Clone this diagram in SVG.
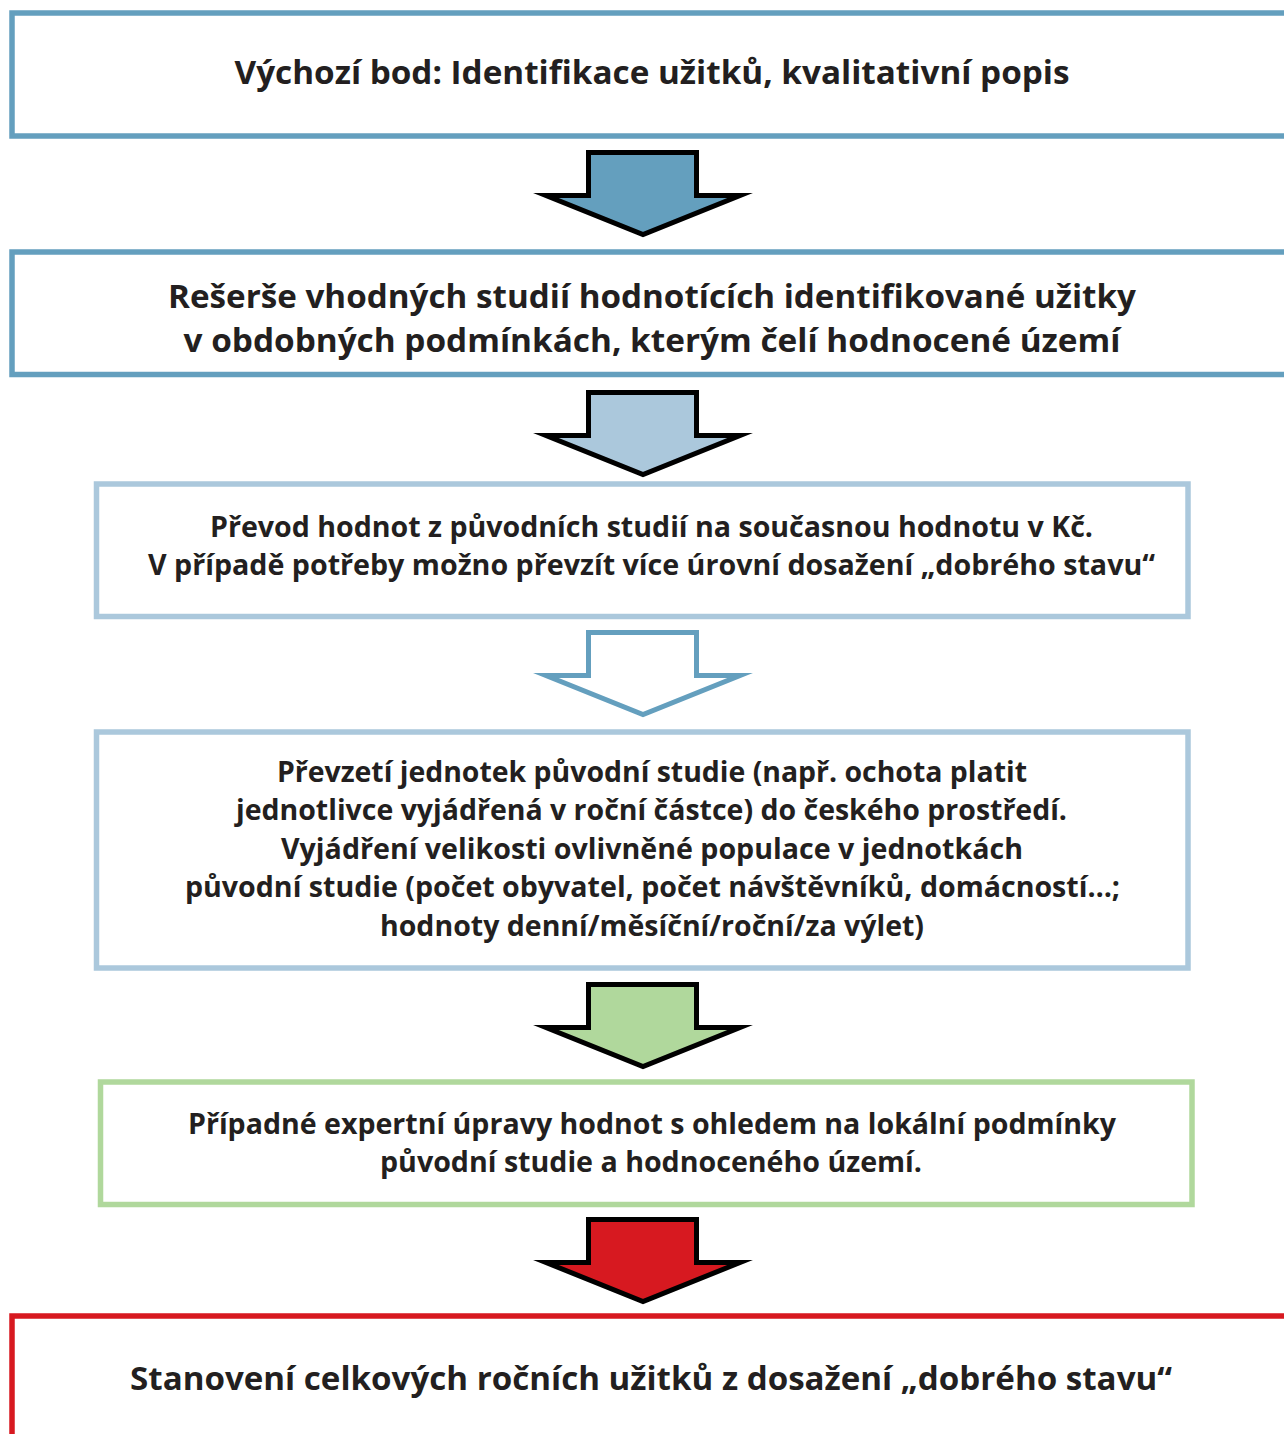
<svg xmlns="http://www.w3.org/2000/svg" xmlns:xlink="http://www.w3.org/1999/xlink" width="1284" height="1434" viewBox="0 0 1284 1434">
<style>
.box{fill:#fff;stroke-width:5.5}
.b-dark{stroke:#649fbe}
.b-light{stroke:#abc8dc}
.b-green{stroke:#b0d89c}
.b-red{stroke:#d71920}
.arr{stroke-width:5;stroke-linejoin:miter;stroke-miterlimit:10}
.t{font-family:"Open Sans","Noto Sans","DejaVu Sans",sans-serif;font-weight:700;fill:#231f20;text-anchor:middle}
.big{font-size:33px}
.sm{font-size:28px}
</style>
<defs>
<polygon id="arrowShape" points="588.5,2.5 696.5,2.5 696.5,45.5 740,45.5 643,84.5 546,45.5 588.5,45.5"/>
</defs>
<rect width="1284" height="1434" fill="#fff"/>

<g id="connectors">
<use xlink:href="#arrowShape" href="#arrowShape" class="arr" transform="translate(0,150)" fill="#649fbe" stroke="#000"/>
<use xlink:href="#arrowShape" href="#arrowShape" class="arr" transform="translate(0,390)" fill="#abc8dc" stroke="#000"/>
<use xlink:href="#arrowShape" href="#arrowShape" class="arr" transform="translate(0,630)" fill="#fff" stroke="#649fbe"/>
<use xlink:href="#arrowShape" href="#arrowShape" class="arr" transform="translate(0,982)" fill="#b0d89c" stroke="#000"/>
<use xlink:href="#arrowShape" href="#arrowShape" class="arr" transform="translate(0,1217)" fill="#d71920" stroke="#000"/>
</g>

<g id="node1">
<rect class="box b-dark" x="12" y="13" width="1300" height="123"/>
<text class="t big" x="652" y="84" textLength="835" lengthAdjust="spacingAndGlyphs">Výchozí bod: Identifikace užitků, kvalitativní popis</text>
</g>

<g id="node2">
<rect class="box b-dark" x="12" y="252" width="1300" height="122.5"/>
<text class="t big" x="652" y="308" textLength="968" lengthAdjust="spacingAndGlyphs">Rešerše vhodných studií hodnotících identifikované užitky</text>
<text class="t big" x="652" y="352" textLength="937" lengthAdjust="spacingAndGlyphs">v obdobných podmínkách, kterým čelí hodnocené území</text>
</g>

<g id="node3">
<rect class="box b-light" x="96.5" y="484" width="1091.5" height="132.5"/>
<text class="t sm" x="651.5" y="537" textLength="883" lengthAdjust="spacingAndGlyphs">Převod hodnot z původních studií na současnou hodnotu v Kč.</text>
<text class="t sm" x="651.5" y="575" textLength="1007" lengthAdjust="spacingAndGlyphs">V případě potřeby možno převzít více úrovní dosažení „dobrého stavu“</text>
</g>

<g id="node4">
<rect class="box b-light" x="96.5" y="732" width="1091.5" height="236"/>
<text class="t sm" x="652" y="782" textLength="750" lengthAdjust="spacingAndGlyphs">Převzetí jednotek původní studie (např. ochota platit</text>
<text class="t sm" x="651.5" y="820" textLength="831" lengthAdjust="spacingAndGlyphs">jednotlivce vyjádřená v roční částce) do českého prostředí.</text>
<text class="t sm" x="652" y="859" textLength="742" lengthAdjust="spacingAndGlyphs">Vyjádření velikosti ovlivněné populace v jednotkách</text>
<text class="t sm" x="652.5" y="897" textLength="935" lengthAdjust="spacingAndGlyphs">původní studie (počet obyvatel, počet návštěvníků, domácností…;</text>
<text class="t sm" x="652" y="936" textLength="544" lengthAdjust="spacingAndGlyphs">hodnoty denní/měsíční/roční/za výlet)</text>
</g>

<g id="node5">
<rect class="box b-green" x="100.5" y="1082" width="1091.5" height="122.5"/>
<text class="t sm" x="652" y="1134" textLength="928" lengthAdjust="spacingAndGlyphs">Případné expertní úpravy hodnot s ohledem na lokální podmínky</text>
<text class="t sm" x="651" y="1172" textLength="542" lengthAdjust="spacingAndGlyphs">původní studie a hodnoceného území.</text>
</g>

<g id="node6">
<rect class="box b-red" x="12" y="1316" width="1300" height="140"/>
<text class="t big" x="651" y="1390" textLength="1042" lengthAdjust="spacingAndGlyphs">Stanovení celkových ročních užitků z dosažení „dobrého stavu“</text>
</g>
</svg>
